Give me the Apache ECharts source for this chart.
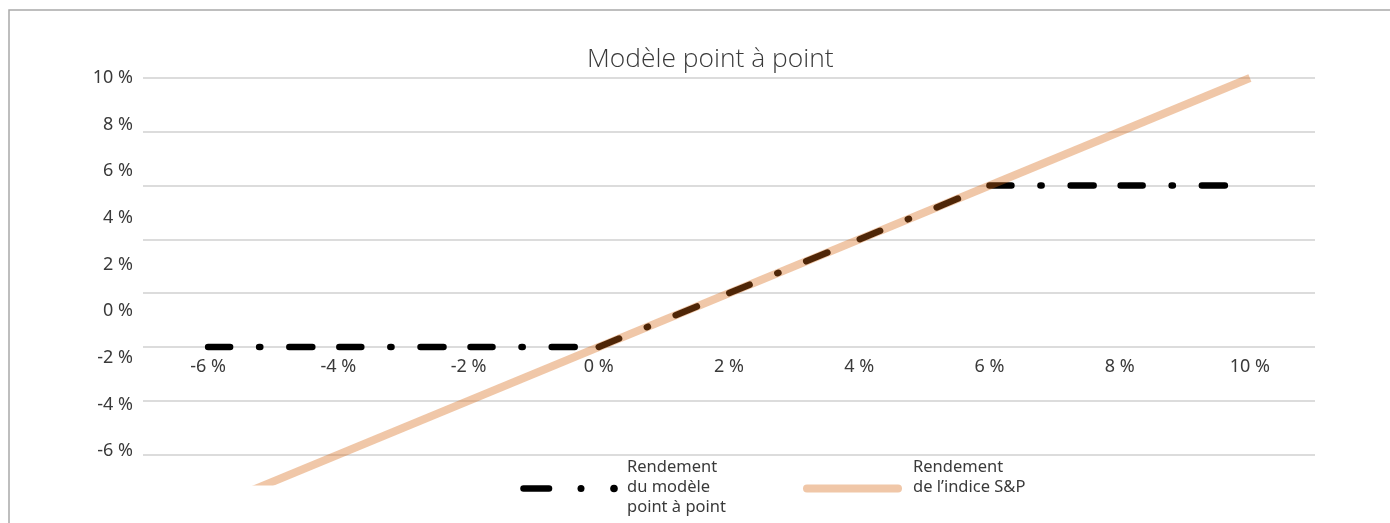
<!DOCTYPE html>
<html lang="fr">
<head>
<meta charset="utf-8">
<title>Modèle point à point</title>
<script src="https://cdn.jsdelivr.net/npm/echarts@6/dist/echarts.min.js"></script>
<style>
  html, body { margin: 0; padding: 0; background: #ffffff; }
  #chart { width: 1390px; height: 523px; }
</style>
</head>
<body>
<div id="chart"></div>
<script>
// Rendement de l'indice (x) et rendement du modèle point à point (y), en %
const modelX = [-6, 0, 6, 10];
const modelY = [0, 0, 6, 6];
const indexX = [-6, 10];
const indexY = [-6, 10];

// Graduations affichées
const xLabelValues = [-6, -4, -2, 0, 2, 4, 6, 8, 10];
const yLabelValues = [-6, -4, -2, 0, 2, 4, 6, 8, 10];

const title = 'Modèle point à point';
const legendModel = ['Rendement', 'du modèle', 'point à point'];
const legendIndex = ['Rendement', 'de l\u2019indice S&P'];

const textColor = '#3a3a3a';
const gridColor = '#dcdcdc';
const peach = 'rgba(214,102,18,0.37)';
const fontFamily = '"Noto Sans", "Open Sans", sans-serif';

// Motif tiret-point-tiret du modèle (paliers) et version étirée (pente)
const dashFlat = [22, 29, 1.2, 29, 23, 27];
const dashSlope = [22, 30, 1.2, 30, 23, 35];

const pct = v => v + ' %';

// Un tracé par segment : le motif repart au début de chaque segment
const modelSeries = [];
for (let i = 0; i < modelX.length - 1; i++) {
  const flat = modelY[i] === modelY[i + 1];
  modelSeries.push({
    type: 'line',
    name: 'Rendement du modèle point à point',
    xAxisIndex: 0,
    yAxisIndex: 0,
    data: [[modelX[i], modelY[i]], [modelX[i + 1], modelY[i + 1]]],
    symbol: 'none',
    lineStyle: {
      color: '#000000',
      width: 6.5,
      cap: 'round',
      type: flat ? dashFlat : dashSlope
    },
    z: 3
  });
}

const chart = echarts.init(document.getElementById('chart'), null, { renderer: 'canvas' });

const xMin = -7, xMax = 11;

chart.setOption({
  animation: false,
  backgroundColor: '#ffffff',
  textStyle: { fontFamily: fontFamily },
  grid: [
    // zone de tracé
    { left: 143, right: 75, top: 78, bottom: 41.5, containLabel: false },
    // colonne des étiquettes de l'axe vertical
    { left: 143, right: 75, top: 78, bottom: 72, containLabel: false },
    // étiquettes de l'axe horizontal, posées sous la ligne du zéro
    { left: 143, right: 75, top: 78, bottom: 176, containLabel: false }
  ],
  xAxis: [
    {
      type: 'value', gridIndex: 0,
      min: xMin, max: xMax, interval: 1,
      axisLine: { show: false },
      axisTick: { show: false },
      axisLabel: { show: false },
      splitLine: { show: false }
    },
    {
      type: 'value', gridIndex: 1, min: 0, max: 1, show: false
    },
    {
      type: 'value', gridIndex: 2, position: 'bottom',
      min: xMin, max: xMax, interval: 1,
      axisLine: { show: false, onZero: false },
      axisTick: { show: false },
      splitLine: { show: false },
      axisLabel: {
        color: textColor, fontSize: 18, fontFamily: fontFamily, margin: 11,
        formatter: v => (xLabelValues.indexOf(v) >= 0 ? pct(v) : '')
      }
    }
  ],
  yAxis: [
    {
      type: 'value', gridIndex: 0,
      min: -5, max: 10, interval: 1,
      axisLine: { show: false },
      axisTick: { show: false },
      axisLabel: { show: false },
      splitLine: {
        show: true,
        lineStyle: { color: ['rgba(0,0,0,0)', gridColor], width: 2 }
      }
    },
    {
      type: 'value', gridIndex: 1,
      min: yLabelValues[0], max: yLabelValues[yLabelValues.length - 1], interval: 2,
      axisLine: { show: false },
      axisTick: { show: false },
      splitLine: { show: false },
      axisLabel: {
        color: textColor, fontSize: 18, fontFamily: fontFamily, margin: 10,
        formatter: v => pct(v)
      }
    },
    {
      type: 'value', gridIndex: 2, min: 0, max: 1, show: false
    }
  ],
  series: modelSeries.concat([
    {
      type: 'line',
      name: 'Rendement de l\u2019indice S&P',
      xAxisIndex: 0,
      yAxisIndex: 0,
      data: indexX.map((x, i) => [x, indexY[i]]),
      symbol: 'none',
      lineStyle: { color: peach, width: 8, cap: 'butt' },
      z: 4
    }
  ]),
  graphic: [
    // cadre
    {
      type: 'rect', silent: true,
      shape: { x: 9, y: 10, width: 1400, height: 600 },
      style: { fill: 'none', stroke: '#a9a9a9', lineWidth: 1.5 }
    },
    // titre
    {
      type: 'text', left: 587, top: 46,
      style: {
        text: title, fill: textColor, fontSize: 26.4, fontWeight: 300,
        fontFamily: '"Open Sans", "Noto Sans", sans-serif'
      }
    },
    // légende : modèle
    {
      type: 'line', silent: true,
      shape: { x1: 523.5, y1: 488.5, x2: 549, y2: 488.5 },
      style: { stroke: '#000', lineWidth: 6.5, lineCap: 'round' }
    },
    { type: 'circle', silent: true, shape: { cx: 581, cy: 488.5, r: 3.5 }, style: { fill: '#000' } },
    { type: 'circle', silent: true, shape: { cx: 614, cy: 488.5, r: 3.8 }, style: { fill: '#000' } },
    {
      type: 'text', left: 627, top: 457,
      style: {
        text: legendModel.join('\n'), fill: textColor, fontSize: 16.5,
        lineHeight: 20, fontFamily: fontFamily
      }
    },
    // légende : indice
    {
      type: 'line', silent: true,
      shape: { x1: 807, y1: 488.5, x2: 898, y2: 488.5 },
      style: { stroke: peach, lineWidth: 8, lineCap: 'round' }
    },
    {
      type: 'text', left: 913, top: 457,
      style: {
        text: legendIndex.join('\n'), fill: textColor, fontSize: 16.5,
        lineHeight: 20, fontFamily: fontFamily
      }
    }
  ]
});
</script>
</body>
</html>
